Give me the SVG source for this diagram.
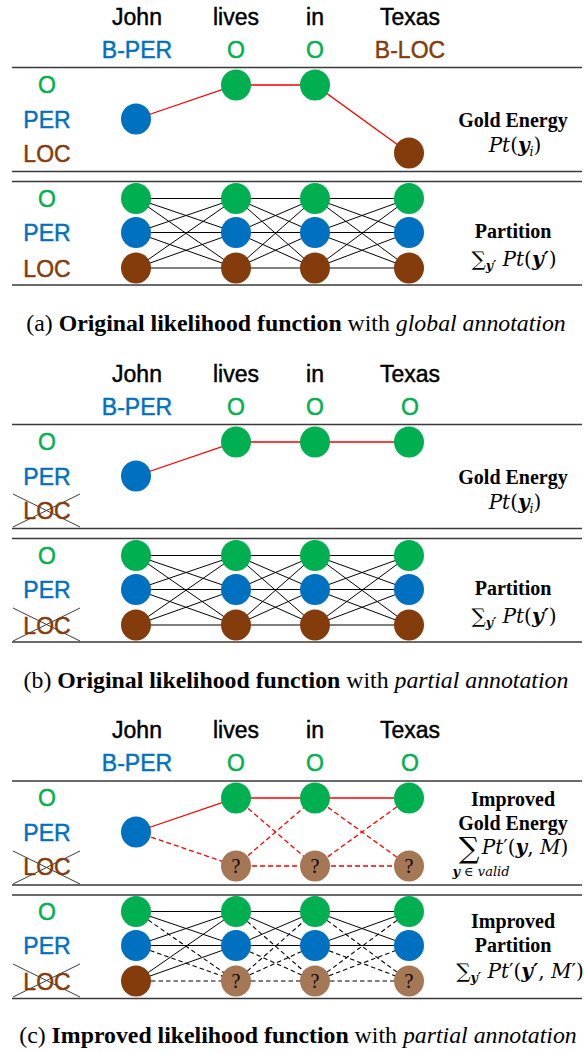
<svg xmlns="http://www.w3.org/2000/svg" width="584" height="1053" viewBox="0 0 584 1053">
<style>
.w{font-family:"Liberation Sans",Arial,sans-serif;font-size:23px;text-anchor:middle;stroke-width:0.45px}
.k{fill:#000;stroke:#000}
.g{fill:#00B050}
.b{fill:#0070C0}
.r{fill:#843C0C}
.q{fill:#A67755}
.w .g{stroke:#00B050}
.w .b{stroke:#0070C0}
.w .r{stroke:#843C0C}
.rule{stroke:#3a3a3a;stroke-width:1.3;fill:none}
.x{stroke:#3a3a3a;stroke-width:1;fill:none}
.e{stroke:#000;stroke-width:1;fill:none}
.ed{stroke:#000;stroke-width:1.1;fill:none;stroke-dasharray:4.5 3}
.red{stroke:#ff0000;stroke-width:1.3;fill:none}
.redd{stroke:#ff0000;stroke-width:1.3;fill:none;stroke-dasharray:5 3}
.lab{font-family:"Liberation Serif","Times New Roman",serif;font-size:20px;font-weight:bold;text-anchor:middle;fill:#000}
.m{font-family:"DejaVu Serif","Liberation Serif",serif;font-size:20px;text-anchor:middle;fill:#000}
.cap{font-family:"Liberation Serif","Times New Roman",serif;font-size:23.8px;text-anchor:middle;fill:#000}
.qm{font-family:"Liberation Serif","Times New Roman",serif;font-size:20px;text-anchor:middle;fill:#000}
.sub{font-size:12.5px}
.big{font-size:29px}
.small{font-size:13px}
</style>
<defs>
<ellipse id="n" cx="0" cy="0" rx="15" ry="15.5"/>
</defs>
<rect width="584" height="1053" fill="#fff"/>

<!-- rules -->
<g id="rules">
<path class="rule" d="M12 67.5H582M12 171.5H582M12 181.5H582M12 285H582"/>
<path class="rule" d="M12 424.5H582M12 528.5H582M12 538.5H582M12 642H582"/>
<path class="rule" d="M12 781H582M12 885H582M12 895H582M12 998.5H582"/>
<path class="x" d="M13 494L80 527M13 527L80 494M13 851L80 884M13 884L80 851"/>
<path class="x" d="M13 608L80 641M13 641L80 608M13 964L80 997M13 997L80 964"/>
</g>

<!-- connectors -->
<g id="connectors">
<path class="red" d="M136 119L236 85L315 85L409 153"/>
<path class="e" d="M136 198.5L236 198.5M136 198.5L236 232.5M136 198.5L236 268M136 232.5L236 198.5M136 232.5L236 232.5M136 232.5L236 268M136 268L236 198.5M136 268L236 232.5M136 268L236 268
M236 198.5L315 198.5M236 198.5L315 232.5M236 198.5L315 268M236 232.5L315 198.5M236 232.5L315 232.5M236 232.5L315 268M236 268L315 198.5M236 268L315 232.5M236 268L315 268
M315 198.5L409 198.5M315 198.5L409 232.5M315 198.5L409 268M315 232.5L409 198.5M315 232.5L409 232.5M315 232.5L409 268M315 268L409 198.5M315 268L409 232.5M315 268L409 268"/>
<path class="red" d="M136 476L236 442L315 442L409 442"/>
<path class="e" d="M136 555.5L236 555.5M136 555.5L236 589.5M136 555.5L236 625M136 589.5L236 555.5M136 589.5L236 589.5M136 589.5L236 625M136 625L236 555.5M136 625L236 589.5M136 625L236 625
M236 555.5L315 555.5M236 555.5L315 589.5M236 555.5L315 625M236 589.5L315 555.5M236 589.5L315 589.5M236 589.5L315 625M236 625L315 555.5M236 625L315 589.5M236 625L315 625
M315 555.5L409 555.5M315 555.5L409 589.5M315 555.5L409 625M315 589.5L409 555.5M315 589.5L409 589.5M315 589.5L409 625M315 625L409 555.5M315 625L409 589.5M315 625L409 625"/>
<path class="red" d="M136 832L236 798L315 798L409 798"/>
<path class="redd" d="M136 832L236 866M236 798L315 866M236 866L315 798M236 866L315 866M315 798L409 866M315 866L409 798M315 866L409 866"/>
<path class="e" d="M136 911.5L236 911.5M136 911.5L236 945.5M136 945.5L236 911.5M136 945.5L236 945.5M136 981L236 911.5M136 981L236 945.5
M236 911.5L315 911.5M236 911.5L315 945.5M236 945.5L315 911.5M236 945.5L315 945.5
M315 911.5L409 911.5M315 911.5L409 945.5M315 945.5L409 911.5M315 945.5L409 945.5"/>
<path class="ed" d="M136 911.5L236 981M136 945.5L236 981M136 981L236 981
M236 911.5L315 981M236 945.5L315 981M236 981L315 911.5M236 981L315 945.5M236 981L315 981
M315 911.5L409 981M315 945.5L409 981M315 981L409 911.5M315 981L409 945.5M315 981L409 981"/>
</g>

<!-- section a -->
<g id="a-words" class="w">
<text x="137" y="25" class="k">John</text>
<text x="236" y="25" class="k">lives</text>
<text x="315" y="25" class="k">in</text>
<text x="410" y="25" class="k">Texas</text>
<text x="137" y="58" class="b">B-PER</text>
<text x="236" y="58" class="g">O</text>
<text x="315" y="58" class="g">O</text>
<text x="410" y="58" class="r">B-LOC</text>
</g>
<g id="a-rows" class="w">
<text x="47" y="93" class="g">O</text>
<text x="47" y="127.5" class="b">PER</text>
<text x="47" y="161.5" class="r">LOC</text>
<text x="47" y="206.5" class="g">O</text>
<text x="47" y="241" class="b">PER</text>
<text x="47" y="276.5" class="r">LOC</text>
</g>
<g id="a-gold-nodes">
<use href="#n" x="136" y="119" class="b"/>
<use href="#n" x="236" y="85" class="g"/>
<use href="#n" x="315" y="85" class="g"/>
<use href="#n" x="409" y="153" class="r"/>
</g>
<g id="a-partition-nodes">
<use href="#n" x="136" y="198.5" class="g"/><use href="#n" x="136" y="232.5" class="b"/><use href="#n" x="136" y="268" class="r"/>
<use href="#n" x="236" y="198.5" class="g"/><use href="#n" x="236" y="232.5" class="b"/><use href="#n" x="236" y="268" class="r"/>
<use href="#n" x="315" y="198.5" class="g"/><use href="#n" x="315" y="232.5" class="b"/><use href="#n" x="315" y="268" class="r"/>
<use href="#n" x="409" y="198.5" class="g"/><use href="#n" x="409" y="232.5" class="b"/><use href="#n" x="409" y="268" class="r"/>
</g>
<g id="a-labels">
<text x="513" y="127" class="lab">Gold Energy</text>
<text x="515" y="152" class="m"><tspan font-style="italic">Pt</tspan>(<tspan font-style="italic" font-weight="bold">y</tspan><tspan font-style="italic" class="sub" dy="4">i</tspan><tspan dy="-4">)</tspan></text>
<text x="513" y="238" class="lab">Partition</text>
<text x="514" y="266" class="m">∑<tspan font-style="italic" font-weight="bold" class="sub" dy="4">y′</tspan><tspan dy="-4" font-style="italic"> Pt</tspan>(<tspan font-style="italic" font-weight="bold">y′</tspan>)</text>
</g>
<g id="a-caption">
<text x="296" y="331" class="cap">(a) <tspan font-weight="bold">Original likelihood function</tspan> with <tspan font-style="italic">global annotation</tspan></text>
</g>

<!-- section b -->
<g id="b-words" class="w">
<text x="137" y="382" class="k">John</text>
<text x="236" y="382" class="k">lives</text>
<text x="315" y="382" class="k">in</text>
<text x="410" y="382" class="k">Texas</text>
<text x="137" y="415" class="b">B-PER</text>
<text x="236" y="415" class="g">O</text>
<text x="315" y="415" class="g">O</text>
<text x="410" y="415" class="g">O</text>
</g>
<g id="b-rows" class="w">
<text x="47" y="450" class="g">O</text>
<text x="47" y="484.5" class="b">PER</text>
<text x="47" y="518.5" class="r">LOC</text>
<text x="47" y="563.5" class="g">O</text>
<text x="47" y="598" class="b">PER</text>
<text x="47" y="633.5" class="r">LOC</text>
</g>
<g id="b-gold-nodes">
<use href="#n" x="136" y="476" class="b"/>
<use href="#n" x="236" y="442" class="g"/>
<use href="#n" x="315" y="442" class="g"/>
<use href="#n" x="409" y="442" class="g"/>
</g>
<g id="b-partition-nodes">
<use href="#n" x="136" y="555.5" class="g"/><use href="#n" x="136" y="589.5" class="b"/><use href="#n" x="136" y="625" class="r"/>
<use href="#n" x="236" y="555.5" class="g"/><use href="#n" x="236" y="589.5" class="b"/><use href="#n" x="236" y="625" class="r"/>
<use href="#n" x="315" y="555.5" class="g"/><use href="#n" x="315" y="589.5" class="b"/><use href="#n" x="315" y="625" class="r"/>
<use href="#n" x="409" y="555.5" class="g"/><use href="#n" x="409" y="589.5" class="b"/><use href="#n" x="409" y="625" class="r"/>
</g>
<g id="b-labels">
<text x="513" y="484" class="lab">Gold Energy</text>
<text x="515" y="509" class="m"><tspan font-style="italic">Pt</tspan>(<tspan font-style="italic" font-weight="bold">y</tspan><tspan font-style="italic" class="sub" dy="4">i</tspan><tspan dy="-4">)</tspan></text>
<text x="513" y="595" class="lab">Partition</text>
<text x="514" y="623" class="m">∑<tspan font-style="italic" font-weight="bold" class="sub" dy="4">y′</tspan><tspan dy="-4" font-style="italic"> Pt</tspan>(<tspan font-style="italic" font-weight="bold">y′</tspan>)</text>
</g>
<g id="b-caption">
<text x="296" y="688" class="cap">(b) <tspan font-weight="bold">Original likelihood function</tspan> with <tspan font-style="italic">partial annotation</tspan></text>
</g>

<!-- section c -->
<g id="c-words" class="w">
<text x="137" y="738" class="k">John</text>
<text x="236" y="738" class="k">lives</text>
<text x="315" y="738" class="k">in</text>
<text x="410" y="738" class="k">Texas</text>
<text x="137" y="771" class="b">B-PER</text>
<text x="236" y="771" class="g">O</text>
<text x="315" y="771" class="g">O</text>
<text x="410" y="771" class="g">O</text>
</g>
<g id="c-rows" class="w">
<text x="47" y="806" class="g">O</text>
<text x="47" y="840.5" class="b">PER</text>
<text x="47" y="874.5" class="r">LOC</text>
<text x="47" y="919.5" class="g">O</text>
<text x="47" y="954" class="b">PER</text>
<text x="47" y="989.5" class="r">LOC</text>
</g>
<g id="c-gold-nodes">
<use href="#n" x="136" y="832" class="b"/>
<use href="#n" x="236" y="798" class="g"/>
<use href="#n" x="315" y="798" class="g"/>
<use href="#n" x="409" y="798" class="g"/>
<use href="#n" x="236" y="866" class="q"/><text x="236" y="873" class="qm">?</text>
<use href="#n" x="315" y="866" class="q"/><text x="315" y="873" class="qm">?</text>
<use href="#n" x="409" y="866" class="q"/><text x="409" y="873" class="qm">?</text>
</g>
<g id="c-partition-nodes">
<use href="#n" x="136" y="911.5" class="g"/><use href="#n" x="136" y="945.5" class="b"/><use href="#n" x="136" y="981" class="r"/>
<use href="#n" x="236" y="911.5" class="g"/><use href="#n" x="236" y="945.5" class="b"/><use href="#n" x="236" y="981" class="q"/><text x="236" y="988" class="qm">?</text>
<use href="#n" x="315" y="911.5" class="g"/><use href="#n" x="315" y="945.5" class="b"/><use href="#n" x="315" y="981" class="q"/><text x="315" y="988" class="qm">?</text>
<use href="#n" x="409" y="911.5" class="g"/><use href="#n" x="409" y="945.5" class="b"/><use href="#n" x="409" y="981" class="q"/><text x="409" y="988" class="qm">?</text>
</g>
<g id="c-labels">
<text x="513" y="806" class="lab">Improved</text>
<text x="513" y="830" class="lab">Gold Energy</text>
<text x="469" y="858" class="m big">∑</text>
<text x="525" y="854" class="m"><tspan font-style="italic">Pt</tspan>′(<tspan font-style="italic" font-weight="bold">y</tspan>, <tspan font-style="italic">M</tspan>)</text>
<text x="481" y="876" class="m small"><tspan font-style="italic" font-weight="bold">y</tspan> ∈ <tspan font-style="italic">valid</tspan></text>
<text x="513" y="928" class="lab">Improved</text>
<text x="513" y="952" class="lab">Partition</text>
<text x="520" y="978" class="m">∑<tspan font-style="italic" font-weight="bold" class="sub" dy="4">y′</tspan><tspan dy="-4" font-style="italic"> Pt</tspan>′(<tspan font-style="italic" font-weight="bold">y′</tspan>, <tspan font-style="italic">M</tspan>′)</text>
</g>
<g id="c-caption">
<text x="298" y="1043" class="cap">(c) <tspan font-weight="bold">Improved likelihood function</tspan> with <tspan font-style="italic">partial annotation</tspan></text>
</g>
</svg>
